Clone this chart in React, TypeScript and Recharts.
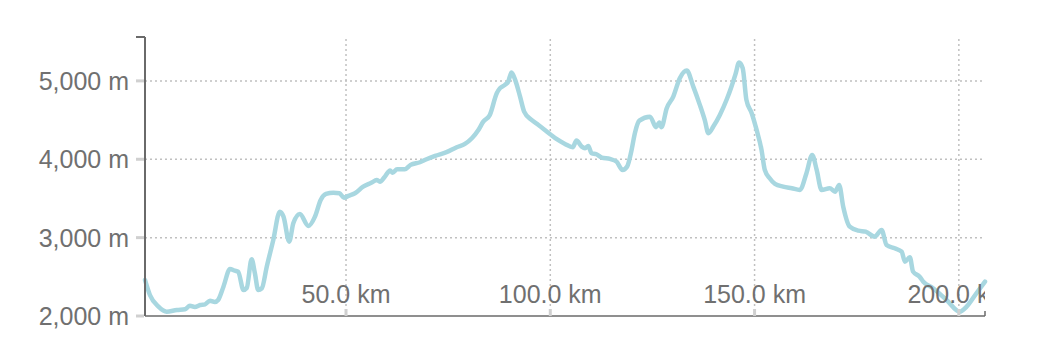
import { LineChart, Line, XAxis, YAxis, ReferenceLine } from 'recharts';

const distanceKm = [
  0.8, 2.0, 4.1, 6.1, 8.6, 10.6, 11.8, 13.0, 14.3, 15.5, 16.7, 17.9, 18.7, 20.0, 21.6, 22.8, 23.6, 24.9, 25.7, 26.9,
  27.7, 28.5, 29.4, 30.6, 32.2, 33.8, 34.7, 36.1, 37.1, 38.7, 40.8, 42.4, 43.8, 45.1, 46.9, 48.4, 49.5, 50.6, 52.2, 54.2,
  56.3, 57.5, 58.3, 59.5, 60.8, 61.4, 62.5, 64.4, 65.8, 68.1, 69.7, 71.8, 74.6, 77.1, 79.1, 80.8, 82.4, 83.6, 85.2, 86.9,
  87.7, 88.9, 89.7, 90.5, 91.4, 92.6, 93.6, 95.4, 97.1, 99.9, 101.6, 103.6, 105.5, 106.4, 107.7, 108.5, 109.3, 110.1, 111.3, 112.6,
  114.6, 116.2, 117.7, 118.8, 119.9, 120.7, 121.8, 124.4, 125.9, 126.7, 127.2, 128.5, 130.1, 131.7, 133.4, 135.0, 136.6, 137.8, 138.7, 139.9,
  141.5, 143.2, 144.4, 145.4, 146.2, 147.1, 148.0, 149.3, 150.5, 151.7, 152.5, 153.7, 155.0, 157.0, 159.1, 161.1, 162.7, 164.1, 165.2, 166.4,
  168.4, 169.7, 170.7, 171.7, 173.3, 175.4, 177.2, 179.4, 181.1, 182.3, 184.3, 186.0, 186.8, 188.0, 188.8, 190.4, 191.3, 193.7, 197.0, 200.2,
  201.9, 204.3, 206.4,
];

const elevationM = [
  2460, 2268, 2119, 2055, 2077, 2086, 2131, 2115, 2140, 2149, 2195, 2179, 2204, 2374, 2600, 2578, 2566, 2332, 2357, 2724,
  2545, 2332, 2354, 2629, 2970, 3331, 3268, 2949, 3183, 3302, 3149, 3268, 3481, 3557, 3574, 3566, 3510, 3532, 3566, 3651,
  3702, 3736, 3714, 3778, 3855, 3829, 3873, 3873, 3928, 3962, 4000, 4043, 4090, 4154, 4196, 4268, 4374, 4480, 4566, 4843,
  4907, 4949, 4991, 5106, 5013, 4800, 4608, 4502, 4438, 4323, 4256, 4196, 4154, 4238, 4161, 4141, 4170, 4077, 4064, 4021,
  4004, 3970, 3864, 3906, 4119, 4332, 4493, 4544, 4409, 4468, 4409, 4652, 4800, 5034, 5132, 4927, 4694, 4502, 4332, 4417,
  4566, 4766, 4936, 5098, 5234, 5162, 4757, 4588, 4374, 4119, 3864, 3758, 3685, 3651, 3630, 3609, 3822, 4055, 3864, 3609,
  3630, 3587, 3672, 3395, 3140, 3089, 3076, 3012, 3098, 2906, 2864, 2821, 2693, 2749, 2566, 2502, 2438, 2354, 2204, 2055,
  2119, 2290, 2438,
];

const xTicks = [50, 100, 150, 200];
const yTicks = [2000, 3000, 4000, 5000];
const xMin = 0.8;
const xMax = 206.4;
const yMin = 2000;
const yMax = 5560;

const data = distanceKm.map((km, i) => ({ km, ele: elevationM[i] }));

const W = 1060;
const H = 362;
const MARGIN = { top: 37, right: 75, bottom: 16, left: 0 };
const PLOT_RIGHT = W - MARGIN.right;
const FONT = '"Liberation Sans", Arial, sans-serif';
const TEXT = '#707070';
const AXIS = '#6a6a6a';
const TICK = '#d0d0d0';
const GRID = '#c0c0c0';

const XTick = (props: any) => {
  const { x, y, payload } = props;
  const v = payload.value;
  if (v === xMax) {
    return <line x1={x} x2={x} y1={y - 5} y2={y} stroke={AXIS} strokeWidth={1.5} />;
  }
  return (
    <g>
      <line x1={x} x2={x} y1={y - 7} y2={y} stroke={TICK} strokeWidth={3} />
      <svg x={0} y={0} width={PLOT_RIGHT} height={H} overflow="hidden">
        <text x={x} y={y - 13} textAnchor="middle" fontSize={25} fontFamily={FONT} fill={TEXT}>
          {`${v.toFixed(1)} km`}
        </text>
      </svg>
    </g>
  );
};

const YTick = (props: any) => {
  const { x, y, payload } = props;
  const v = payload.value;
  if (v === yMax) {
    return <line x1={x - 9} x2={x} y1={y} y2={y} stroke={AXIS} strokeWidth={2} />;
  }
  return (
    <g>
      <line x1={x - 9} x2={x - 1} y1={y} y2={y} stroke={TICK} strokeWidth={3} />
      <text x={x - 16} y={y} dy="0.355em" textAnchor="end" fontSize={25} fontFamily={FONT} fill={TEXT}>
        {`${v.toLocaleString('en-US')} m`}
      </text>
    </g>
  );
};

export default function App() {
  return (
    <div style={{ position: 'absolute', left: 0, top: 0, background: '#fff' }}>
      <LineChart width={W} height={H} data={data} margin={MARGIN}>
        {yTicks.slice(1).map((v) => (
          <ReferenceLine key={`h${v}`} y={v} stroke={GRID} strokeWidth={1.5} strokeDasharray="2 3" />
        ))}
        {xTicks.map((v) => (
          <ReferenceLine key={`v${v}`} x={v} stroke={GRID} strokeWidth={1.5} strokeDasharray="2 3" />
        ))}
        <XAxis
          dataKey="km"
          type="number"
          domain={[xMin, xMax]}
          ticks={[...xTicks, xMax]}
          interval={0}
          height={30}
          tickSize={0}
          tickMargin={0}
          tickLine={false}
          axisLine={{ stroke: AXIS, strokeWidth: 1.5 }}
          tick={<XTick />}
        />
        <YAxis
          type="number"
          domain={[yMin, yMax]}
          ticks={[...yTicks, yMax]}
          interval={0}
          width={145}
          tickSize={0}
          tickMargin={0}
          tickLine={false}
          axisLine={{ stroke: AXIS, strokeWidth: 2 }}
          tick={<YTick />}
        />
        <Line
          type="monotone"
          dataKey="ele"
          stroke="#a8d7e0"
          strokeWidth={4.5}
          strokeLinejoin="round"
          strokeLinecap="round"
          dot={false}
          activeDot={false}
          isAnimationActive={false}
        />
      </LineChart>
    </div>
  );
}
